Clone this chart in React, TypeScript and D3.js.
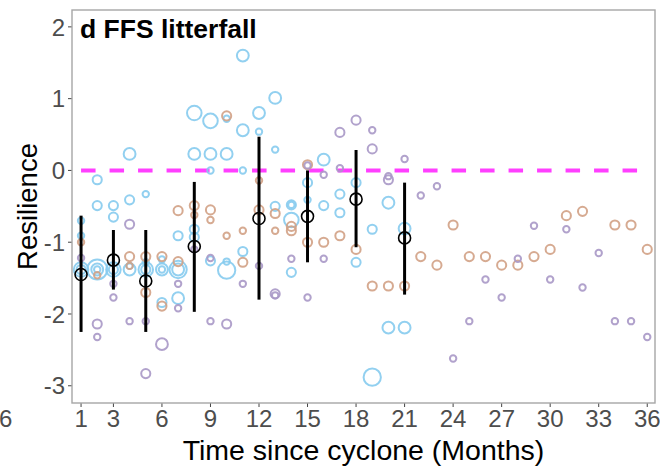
import React from 'react';
import * as d3 from 'd3';

// [month, resilience, size class]
const bluePts: [number, number, number][] = [
  [1, -0.7, 1], [1, -0.91, 1], [1, -1.38, 4], [1, -1.38, 2],
  [2, -0.13, 2], [2, -0.49, 2], [2, -1.38, 6], [2, -1.38, 3], [2, -1.38, 1],
  [3, -0.49, 2], [3, -0.65, 2], [3, -1.38, 4], [3, -1.38, 2],
  [4, 0.23, 3], [4, -0.41, 2], [4, -1.38, 3], [4, -1.33, 1],
  [5, -0.33, 1], [5, -1.28, 1], [5, -1.38, 4], [5, -1.38, 2],
  [6, -1.24, 1], [6, -1.38, 3], [6, -1.38, 1], [6, -1.84, 2],
  [7, -0.91, 2], [7, -1.38, 5], [7, -1.38, 3], [7, -1.78, 3],
  [8, 0.8, 4], [8, 0.23, 3], [8, -0.82, 2], [8, -0.93, 2],
  [9, 0.69, 4], [9, 0.23, 3], [9, 0.0, 1], [9, -1.26, 2],
  [10, 0.72, 1], [10, 0.23, 3], [10, -1.27, 1], [10, -1.39, 5],
  [11, 1.6, 3], [11, 0.56, 3], [11, 0.0, 1], [11, -1.13, 2],
  [12, 0.8, 3], [12, 0.54, 1],
  [13, 1.01, 3], [13, 0.29, 1], [13, -0.5, 2],
  [14, -0.48, 2], [14, -0.48, 1], [14, -0.69, 4], [14, -1.42, 2],
  [15, -0.17, 2], [15, -0.41, 1],
  [16, 0.15, 3], [16, -0.49, 2],
  [17, -0.33, 2], [17, -0.59, 2],
  [18, -0.17, 2], [18, -1.28, 2],
  [19, -0.82, 2], [19, -2.88, 5],
  [20, -0.45, 3], [20, -2.19, 3],
  [21, -0.81, 3], [21, -2.19, 3],
];

const tanPts: [number, number, number][] = [
  [1, -1.0, 1], [2, -1.46, 1],
  [4, -1.2, 2], [4, -1.33, 1],
  [5, -1.2, 2], [5, -1.7, 2],
  [6, -1.2, 2], [6, -1.89, 2],
  [7, -0.56, 2], [7, -1.27, 2],
  [8, -0.49, 2], [8, -0.62, 1],
  [9, -0.55, 2], [9, -0.69, 1],
  [10, 0.76, 2], [10, -0.91, 1],
  [11, -0.84, 1], [11, -1.28, 2],
  [12, -0.14, 1], [12, -0.55, 2],
  [13, -0.6, 2], [13, -0.84, 1],
  [14, -0.78, 2], [14, -0.84, 2],
  [15, 0.08, 2], [15, -1.0, 2],
  [16, -1.0, 2], [17, -0.91, 2], [18, -1.1, 2],
  [19, -1.61, 2], [20, -1.61, 2], [21, -1.61, 2],
  [22, -1.2, 2], [23, -1.32, 2], [24, -0.76, 2], [25, -1.2, 2],
  [26, -1.2, 2], [27, -1.32, 2], [28, -1.32, 2], [29, -1.2, 2],
  [30, -1.1, 2], [31, -0.63, 2], [32, -0.57, 2], [34, -0.76, 2],
  [35, -0.76, 2], [36, -1.1, 2],
];

const purplePts: [number, number, number][] = [
  [1, -1.22, 1],
  [2, -2.14, 2], [2, -2.32, 1],
  [3, -1.58, 1], [3, -1.77, 1],
  [4, -0.75, 2], [4, -2.1, 1],
  [5, -2.1, 1], [5, -2.83, 2],
  [6, -2.42, 3],
  [7, -1.58, 1], [7, -1.92, 1],
  [8, -1.1, 1],
  [9, -1.22, 1], [9, -2.1, 1],
  [10, -2.14, 2],
  [11, -1.58, 1],
  [12, -1.33, 1],
  [13, -1.72, 2], [13, -1.74, 1],
  [14, -1.23, 1],
  [15, 0.07, 1], [15, -1.77, 1],
  [16, -0.06, 1], [16, -1.23, 1],
  [17, 0.53, 2], [17, 0.03, 1],
  [18, 0.7, 2],
  [19, 0.56, 1], [19, 0.3, 2],
  [20, -0.08, 1], [20, -0.13, 2],
  [21, 0.16, 1], [22, -0.35, 1], [23, -0.22, 1], [24, -2.62, 1],
  [25, -2.1, 1], [26, -1.52, 1], [27, -1.77, 1], [28, -1.23, 1],
  [29, -0.77, 1], [30, -1.52, 1], [31, -0.82, 1], [32, -1.63, 1],
  [33, -1.15, 1], [34, -2.1, 1], [35, -2.1, 1], [36, -2.32, 1],
];

// [month, mean, upper, lower]
const meanPts: [number, number, number, number][] = [
  [1, -1.45, -0.63, -2.25],
  [3, -1.25, -0.83, -1.66],
  [5, -1.54, -0.83, -2.25],
  [8, -1.06, -0.16, -1.97],
  [12, -0.67, 0.47, -1.8],
  [15, -0.64, 0.0, -1.28],
  [18, -0.4, 0.285, -1.07],
  [21, -0.94, -0.17, -1.73],
];

const xTicks = [1, 3, 6, 9, 12, 15, 18, 21, 24, 27, 30, 33, 36];
const yTicks = [-3, -2, -1, 0, 1, 2];

const W = 660;
const H = 470;
const panel = { left: 72, right: 655, top: 10, bottom: 403 };
const font = '"Liberation Sans", Arial, sans-serif';

const App = () => {
  const x = d3.scaleLinear().domain([0.44, 36.48]).range([panel.left, panel.right]);
  const y = d3.scaleLinear().domain([-3.24, 2.235]).range([panel.bottom, panel.top]);
  const r = d3.scaleLinear().domain([1, 6]).range([3.2, 10]);

  const series = [
    { pts: bluePts, color: '#86CBEE' },
    { pts: tanPts, color: '#D2A185' },
    { pts: purplePts, color: '#A898C6' },
  ];

  return (
    <svg width={W} height={H} style={{ position: 'absolute', left: 0, top: 0, fontFamily: font }}>
      <rect x={0} y={0} width={W} height={H} fill="#fff" />

      {/* y ticks */}
      {yTicks.map(t => (
        <g key={'y' + t}>
          <line x1={panel.left - 4} x2={panel.left} y1={y(t)} y2={y(t)} stroke="#444" strokeWidth={1} />
          <text x={panel.left - 7} y={y(t)} dy="0.36em" textAnchor="end" fontSize={24} fill="#4D4D4D">
            {t}
          </text>
        </g>
      ))}

      {/* x ticks */}
      {xTicks.map(t => (
        <g key={'x' + t}>
          <line x1={x(t)} x2={x(t)} y1={panel.bottom} y2={panel.bottom + 4} stroke="#444" strokeWidth={1} />
          <text x={x(t)} y={427} textAnchor="middle" fontSize={24} fill="#4D4D4D">
            {t}
          </text>
        </g>
      ))}
      {/* leftover tick label of the neighbouring panel */}
      <text x={-1} y={427} fontSize={24} fill="#4D4D4D">6</text>

      {/* reference line */}
      <line
        x1={x(1)} x2={x(36)} y1={y(0)} y2={y(0)}
        stroke="#FF3FFF" strokeWidth={4} strokeDasharray="14.5 14"
      />

      {/* points */}
      {series.map((s, si) => (
        <g key={si}>
          {s.pts.map((p, i) => (
            <circle
              key={i}
              cx={x(p[0])}
              cy={y(p[1])}
              r={r(p[2])}
              fill="none"
              stroke={s.color}
              strokeWidth={2}
              opacity={0.9}
            />
          ))}
        </g>
      ))}

      {/* error bars and means */}
      {meanPts.map((m, i) => (
        <g key={'m' + i}>
          <line x1={x(m[0])} x2={x(m[0])} y1={y(m[2])} y2={y(m[3])} stroke="#000" strokeWidth={3} />
          <circle cx={x(m[0])} cy={y(m[1])} r={6} fill="none" stroke="#000" strokeWidth={1.6} />
        </g>
      ))}

      {/* panel border */}
      <rect
        x={panel.left} y={panel.top}
        width={panel.right - panel.left} height={panel.bottom - panel.top}
        fill="none" stroke="#A6A6A6" strokeWidth={1.4}
      />

      <text x={80} y={38} fontSize={26.5} fontWeight="bold" fill="#000">d FFS litterfall</text>

      <text
        transform={`translate(37,${(panel.top + panel.bottom) / 2}) rotate(-90)`}
        textAnchor="middle" fontSize={27.5} fill="#000"
      >
        Resilience
      </text>

      <text x={(panel.left + panel.right) / 2} y={460} textAnchor="middle" fontSize={28.5} fill="#000">
        Time since cyclone (Months)
      </text>
    </svg>
  );
};

export default App;
